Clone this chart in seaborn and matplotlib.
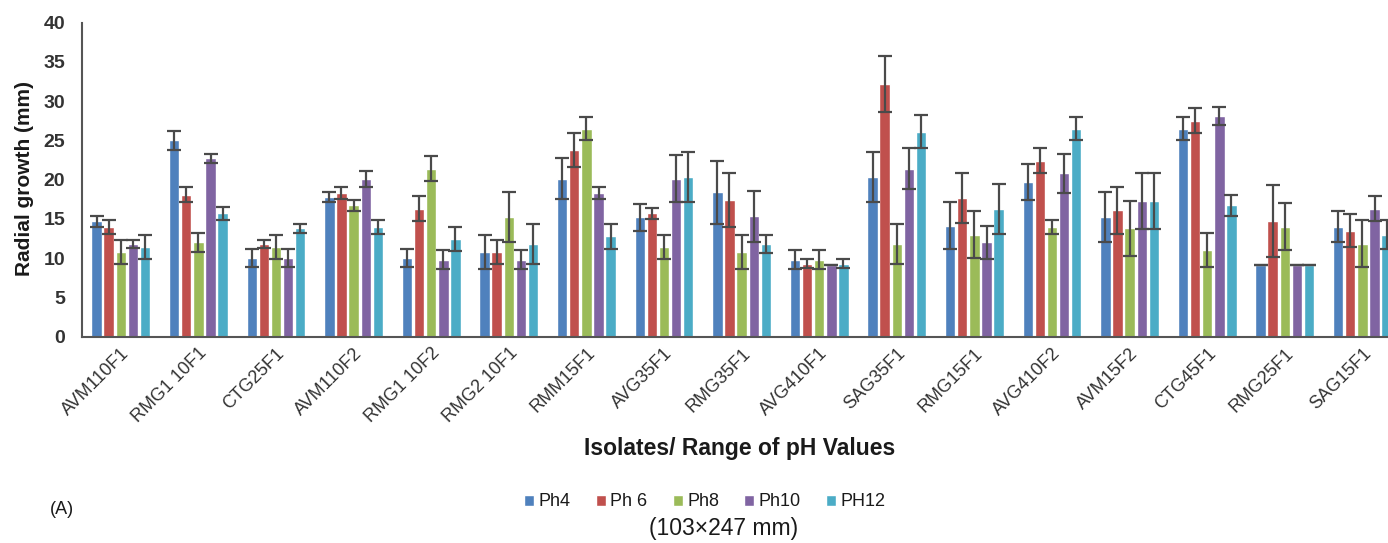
import matplotlib
matplotlib.use("Agg")
import matplotlib.pyplot as plt
import seaborn as sns
import pandas as pd
import numpy as np

isolates = ["AVM110F1", "RMG110F1", "CTG25F1", "AVM110F2", "RMG110F2", "RMG210F1",
            "RMM15F1", "AVG35F1", "RMG35F1", "AVG410F1", "SAG35F1", "RMG15F1",
            "AVG410F2", "AVM15F2", "CTG45F1", "RMG25F1", "SAG15F1"]
tick_labels = ["AVM110F1", "RMG1 10F1", "CTG25F1", "AVM110F2", "RMG1 10F2", "RMG2 10F1",
               "RMM15F1", "AVG35F1", "RMG35F1", "AVG410F1", "SAG35F1", "RMG15F1",
               "AVG410F2", "AVM15F2", "CTG45F1", "RMG25F1", "SAG15F1"]
series = ["Ph4", "Ph 6", "Ph8", "Ph10", "PH12"]

ph4 = [14.7, 25.0, 10.0, 17.8, 10.0, 10.8, 20.1, 15.2, 18.4, 9.8, 20.3, 14.1, 19.7, 15.2, 26.5, 9.1, 14.0]
ph6 = [14.0, 18.1, 11.8, 18.3, 16.3, 10.8, 23.8, 15.7, 17.4, 9.3, 32.2, 17.7, 22.4, 16.1, 27.5, 14.7, 13.5]
ph8 = [10.8, 12.0, 11.4, 16.7, 21.4, 15.2, 26.5, 11.4, 10.8, 9.8, 11.8, 13.0, 14.0, 13.8, 11.0, 14.0, 11.8]
ph10 = [11.8, 22.7, 10.0, 20.1, 9.8, 9.8, 18.3, 20.1, 15.3, 9.1, 21.4, 12.0, 20.8, 17.3, 28.1, 9.1, 16.3]
ph12 = [11.4, 15.7, 13.8, 14.0, 12.4, 11.8, 12.8, 20.3, 11.8, 9.3, 26.1, 16.3, 26.5, 17.3, 16.7, 9.1, 13.0]

err4 = [0.7, 1.2, 1.2, 0.6, 1.2, 2.2, 2.6, 1.7, 4.0, 1.2, 3.2, 3.0, 2.3, 3.2, 1.5, 0.0, 2.0]
err6 = [0.9, 0.9, 0.5, 0.8, 1.6, 1.5, 2.2, 0.7, 3.5, 0.6, 3.6, 3.2, 1.6, 3.0, 1.6, 4.6, 2.1]
err8 = [1.5, 1.2, 1.5, 0.7, 1.6, 3.2, 1.5, 1.5, 2.2, 1.2, 2.6, 3.0, 0.9, 3.5, 2.2, 3.0, 3.0]
err10 = [0.5, 0.6, 1.2, 1.0, 1.2, 1.2, 0.8, 3.0, 3.2, 0.0, 2.6, 2.1, 2.5, 3.6, 1.1, 0.0, 1.6]
err12 = [1.5, 0.8, 0.6, 0.9, 1.5, 2.6, 1.6, 3.2, 1.2, 0.6, 2.1, 3.2, 1.5, 3.6, 1.4, 0.0, 1.9]

colors = ["#4F81BD", "#C0504D", "#9BBB59", "#8064A2", "#4BACC6"]

values = [ph4, ph6, ph8, ph10, ph12]
errors = [err4, err6, err8, err10, err12]

rows = []
for s, vals in zip(series, values):
    for iso, v in zip(isolates, vals):
        rows.append({"Isolate": iso, "pH": s, "Growth": v})
df = pd.DataFrame(rows)

sns.set_theme(style="white")
plt.rcParams["font.family"] = ["Liberation Sans", "DejaVu Sans"]

fig = plt.figure(figsize=(13.88, 5.43), dpi=100)
ax = fig.add_axes([82 / 1388, 1 - 336.5 / 543, 17 * 77.6 / 1388, (336.5 - 22.7) / 543])

sns.barplot(data=df, x="Isolate", y="Growth", hue="pH", order=isolates, hue_order=series,
            palette=colors, width=0.78, gap=0.14, errorbar=None, ax=ax, saturation=1)

for cont, errs in zip(ax.containers, errors):
    xs = [b.get_x() + b.get_width() / 2 for b in cont]
    ys = [b.get_height() for b in cont]
    ax.errorbar(xs, ys, yerr=errs, fmt="none", ecolor="#4a4a4a", elinewidth=1.6,
                capsize=5, capthick=1.6, zorder=5)

ax.set_xlim(-0.5, 16.5)
ax.set_ylim(0, 40)
ax.set_yticks(np.arange(0, 41, 5))
ax.tick_params(axis="both", length=0)
ax.tick_params(axis="y", pad=12)
ax.tick_params(axis="x", pad=6)
for lab in ax.get_yticklabels():
    lab.set_fontweight("bold")
    lab.set_fontsize(14)
    lab.set_color("#333333")
ax.set_xticks(range(len(isolates)))
ax.set_xticklabels(tick_labels, rotation=45, ha="right", rotation_mode="anchor",
                   fontsize=13, color="#333333")

for side in ["top", "right"]:
    ax.spines[side].set_visible(False)
for side in ["left", "bottom"]:
    ax.spines[side].set_color("#555555")
    ax.spines[side].set_linewidth(1.5)

ax.set_ylabel("")
ax.set_xlabel("")
fig.text(25 / 1388, 1 - 178 / 543, "Radial growth (mm)", rotation=90, ha="center", va="center",
         fontsize=15, fontweight="bold", color="#1a1a1a")

fig.text(740 / 1388, 1 - 448 / 543, "Isolates/ Range of pH Values", ha="center", va="center",
         fontsize=16.5, fontweight="bold", color="#1a1a1a")

sns.move_legend(ax, "center", bbox_to_anchor=(705 / 1388, 1 - 502 / 543),
                bbox_transform=fig.transFigure, ncol=5, frameon=False, title=None,
                handlelength=0.55, handleheight=0.55, handletextpad=0.25,
                columnspacing=1.4, fontsize=13)
for t in ax.get_legend().get_texts():
    t.set_color("#1a1a1a")

fig.text(62 / 1388, 1 - 509 / 543, "(A)", ha="center", va="center", fontsize=13, color="#1a1a1a")
fig.text(724 / 1388, 1 - 528 / 543, "(103\u00d7247 mm)", ha="center", va="center",
         fontsize=16.5, color="#1a1a1a")

fig.savefig("out.png", dpi=100)
